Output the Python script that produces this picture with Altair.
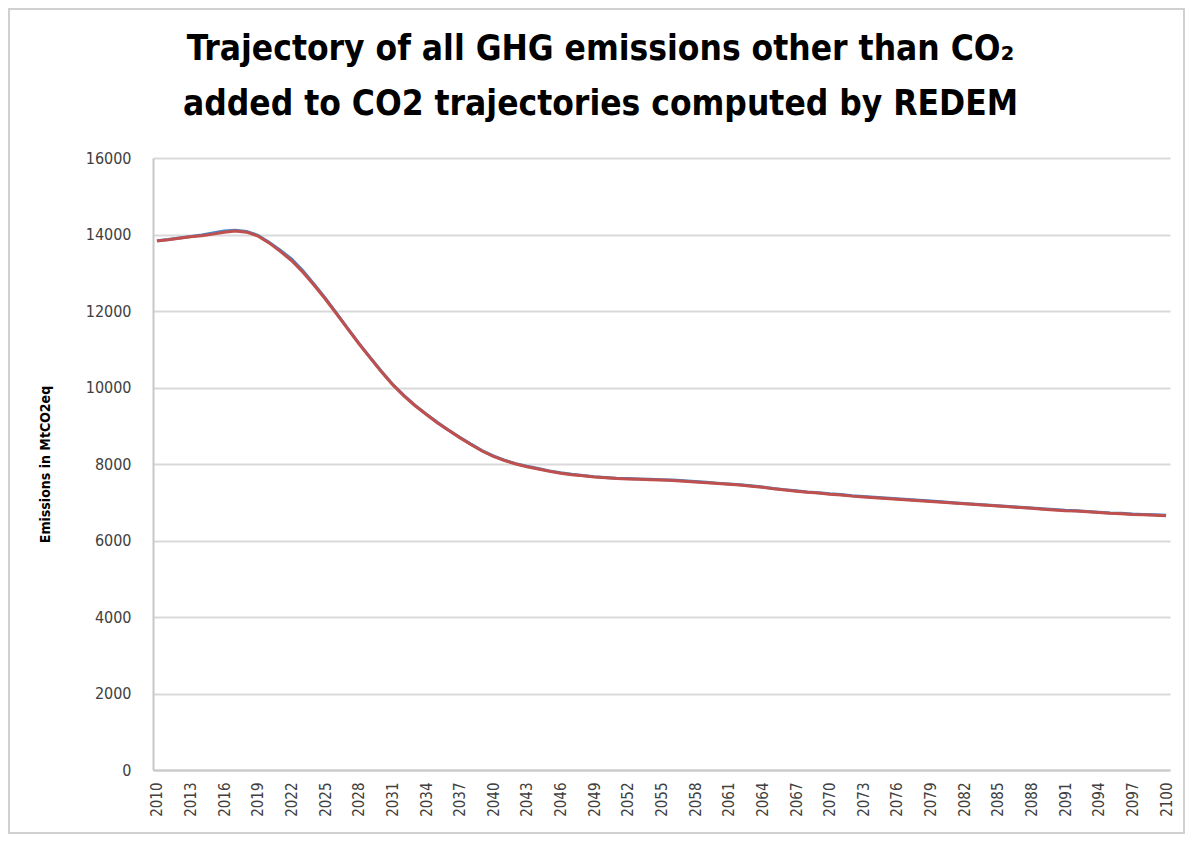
import altair as alt
import pandas as pd

years = list(range(2010, 2101))

ghg_red = [
    13830, 13860, 13900, 13940, 13970, 14010, 14060, 14090, 14060, 13960,
    13780, 13560, 13320, 13020, 12680, 12320, 11930, 11540, 11150, 10780,
    10420, 10080, 9790, 9530, 9300, 9080, 8880, 8690, 8510, 8340,
    8200, 8090, 8000, 7930, 7870, 7810, 7760, 7720, 7690, 7660,
    7640, 7620, 7610, 7600, 7590, 7580, 7570, 7550, 7530, 7510,
    7490, 7470, 7450, 7420, 7390, 7350, 7320, 7290, 7260, 7240,
    7210, 7190, 7160, 7140, 7120, 7100, 7080, 7060, 7040, 7020,
    7000, 6980, 6960, 6940, 6920, 6900, 6880, 6860, 6840, 6820,
    6800, 6780, 6770, 6750, 6730, 6710, 6700, 6680, 6670, 6660,
    6650,
]

ghg_blue = [
    13840, 13870, 13910, 13950, 13990, 14040, 14090, 14110, 14080, 13980,
    13800, 13590, 13360, 13060, 12710, 12340, 11950, 11550, 11160, 10790,
    10430, 10090, 9800, 9540, 9310, 9090, 8890, 8700, 8520, 8350,
    8210, 8100, 8010, 7940, 7880, 7820, 7770, 7730, 7700, 7670,
    7650, 7630, 7620, 7610, 7600, 7590, 7580, 7560, 7540, 7520,
    7500, 7480, 7460, 7430, 7400, 7360, 7330, 7300, 7270, 7250,
    7220, 7200, 7170, 7150, 7130, 7110, 7090, 7070, 7050, 7030,
    7010, 6990, 6970, 6950, 6930, 6910, 6890, 6870, 6850, 6830,
    6810, 6790, 6780, 6760, 6740, 6720, 6710, 6690, 6680, 6670,
    6660,
]

label_years = list(range(2010, 2101, 3))
y_ticks = [0, 2000, 4000, 6000, 8000, 10000, 12000, 14000, 16000]

df = pd.DataFrame({
    "year": years * 2,
    "value": ghg_blue + ghg_red,
    "series": ["blue"] * len(years) + ["red"] * len(years),
})

FONT = "Liberation Sans Narrow, DejaVu Sans Condensed, Roboto Condensed, Open Sans, sans-serif"

x_enc = alt.X(
    "year:O",
    scale=alt.Scale(type="point", padding=0.35),
    axis=alt.Axis(
        title=None, values=label_years, labelAngle=270, labelFontSize=15,
        labelColor="#404040", labelFont=FONT, labelPadding=12, ticks=False,
        domainColor="#c8c8c8", domainWidth=2, grid=False,
    ),
)
y_enc = alt.Y(
    "value:Q",
    scale=alt.Scale(domain=[0, 16000], nice=False),
    axis=alt.Axis(
        title="Emissions in MtCO2eq", values=y_ticks, format="d", labelFontSize=16,
        labelColor="#404040", labelFont=FONT, labelPadding=22, ticks=False,
        domainColor="#c8c8c8", domainWidth=2, gridColor="#d9d9d9", gridWidth=2,
        titleFont=FONT, titleFontSize=14, titleFontWeight="bold", titleColor="#000000",
        titleX=-108, titleY=306, titleAngle=270, titleAlign="center", titleBaseline="middle",
    ),
)

lines = alt.Chart(df).mark_line(strokeWidth=3).encode(
    x=x_enc,
    y=y_enc,
    color=alt.Color("series:N", scale=alt.Scale(domain=["blue", "red"], range=["#4F81BD", "#C0504D"]), legend=None),
    order=alt.Order("year:O"),
)

frame = alt.Chart(pd.DataFrame({"a": [0]})).mark_rect(
    filled=False, stroke="#d0d0d0", strokeWidth=2
).encode(
    x=alt.value(-144), x2=alt.value(1031), y=alt.value(-149), y2=alt.value(675)
)

chart = alt.layer(frame, lines).properties(
    width=1017,
    height=612,
    background="white",
    padding={"left": 145, "top": 150, "right": 16, "bottom": 64},
    autosize=alt.AutoSizeParams(type="none"),
    title=alt.TitleParams(
        text=["Trajectory of all GHG emissions other than CO\u2082",
              "added to CO2 trajectories computed by REDEM"],
        font=FONT, fontSize=35, fontWeight="bold", color="#000000",
        lineHeight=55, anchor="middle", dx=-61, offset=-114,
    ),
).configure_view(stroke="transparent", strokeWidth=0)

chart.save("out.html", embed_options={"renderer": "svg", "actions": False})
